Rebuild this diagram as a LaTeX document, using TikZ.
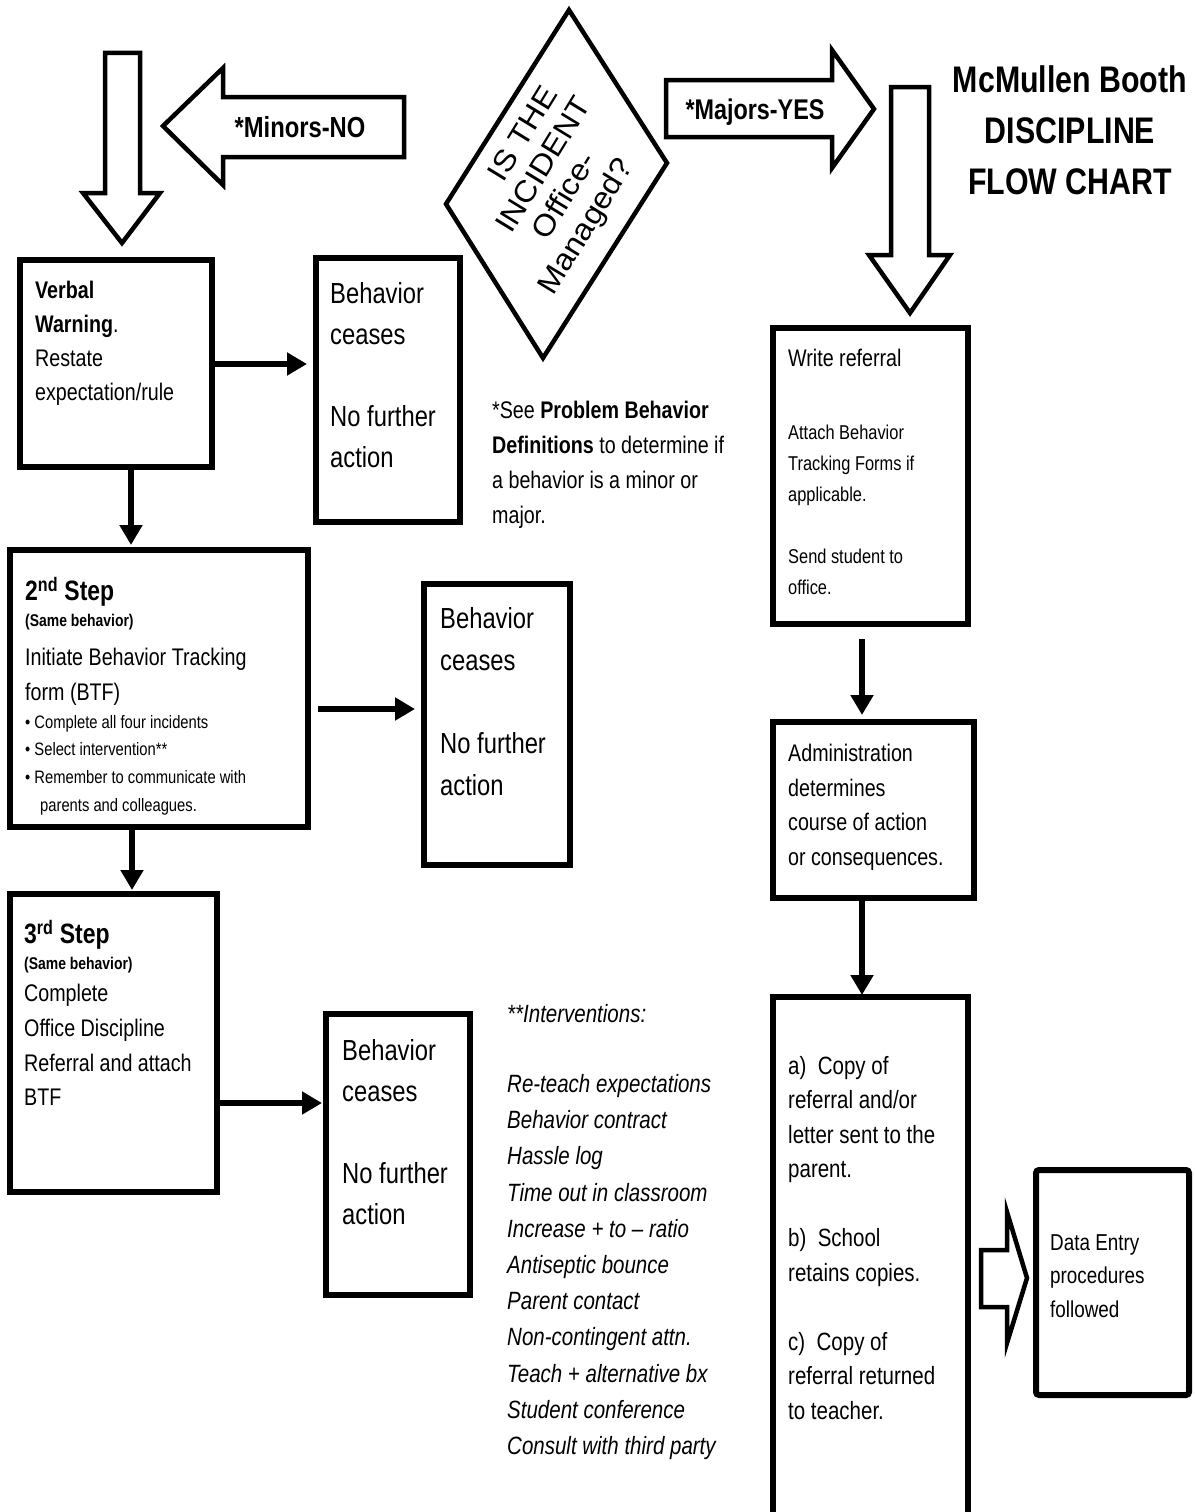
\documentclass[tikz,border=0pt]{standalone}
\usepackage{fontspec}
\setmainfont{Liberation Sans}[FakeStretch=0.82]
\newfontfamily\plainfont{Liberation Sans}[FakeStretch=1.08]
\usetikzlibrary{arrows.meta,calc}
\newcommand{\fsz}[2]{\fontsize{#1}{#2}\selectfont}
\begin{document}
\begin{tikzpicture}[x=1pt,y=-1pt,
  box/.style={draw,line width=6pt,inner sep=0pt,outer sep=0pt,anchor=north west},
  txt/.style={align=left,inner sep=0pt,anchor=north west},
  conn/.style={line width=6pt,-{Triangle[length=20pt,width=22pt]}},
  blk/.style={draw,line width=4.5pt,line join=miter,fill=white}]
\useasboundingbox[fill=white] (0,0) rectangle (1194,1512);

% ---------- block arrows and decision ----------
\draw[blk] (105,53) -- (140,53) -- (140,193) -- (160,193) -- (122,243) -- (83,193) -- (105,193) -- cycle;
\draw[blk] (163,126) -- (223,68) -- (223,97) -- (404,97) -- (404,157) -- (223,157) -- (223,185) -- cycle;
\node[font=\bfseries\fsz{29}{32}] (minors) at (300,127) {*Minors-NO};
\draw[line width=4.5pt,line join=miter] (569,10) -- (667,163) -- (543,358) -- (446,204) -- cycle;
\node[rotate=58.5,inner sep=0pt,align=left,font=\plainfont\fsz{30}{34}] (question) at (552,188)
  {\hspace*{71pt}IS THE\\\hspace*{31pt}INCIDENT\\\hspace*{44.5pt}Office-\\Managed?};
\draw[blk] (666,80) -- (832,80) -- (832,50) -- (874,109) -- (832,168) -- (832,137) -- (666,137) -- cycle;
\node[font=\bfseries\fsz{28.5}{32}] (majors) at (755,112) {*Majors-YES};
\draw[blk] (891,87) -- (929,87) -- (929,255) -- (950,255) -- (910,313) -- (869,255) -- (891,255) -- cycle;
\node[align=center,anchor=north,font=\bfseries\fsz{37}{51}] (title) at (1070,62) {McMullen Booth\\DISCIPLINE\\FLOW CHART};

% ---------- left column ----------
\node[box,minimum width=192pt,minimum height=207pt] (verbal) at (20,260) {};
\node[txt,font=\fsz{24}{34}] (verbalT) at (35,281) {\textbf{Verbal}\\\textbf{Warning}.\\Restate\\expectation/rule};

\node[box,minimum width=144pt,minimum height=264pt] (cease1) at (316,258) {};
\node[txt,font=\fsz{29}{41}] (cease1T) at (330,282) {Behavior\\ceases\\[41pt]No further\\action};

\node[txt,font=\fsz{24}{35}] (note) at (492,401) {*See \textbf{Problem Behavior}\\\textbf{Definitions} to determine if\\a behavior is a minor or\\major.};

\node[box,minimum width=298pt,minimum height=277pt] (second) at (10,550) {};
\node[txt,font=\bfseries\fsz{28}{30}] (secondA) at (25,577) {2\textsuperscript{nd} Step};
\node[txt,font=\bfseries\fsz{17}{20}] (secondB) at (25,614) {(Same behavior)};
\node[txt,font=\fsz{24}{35}] (secondC) at (25,648) {Initiate Behavior Tracking\\form (BTF)};
\node[txt,font=\fsz{18}{27.7}] (secondD) at (25,715) {\textbullet\ Complete all four incidents\\\textbullet\ Select intervention**\\\textbullet\ Remember to communicate with\\\hspace*{15pt}parents and colleagues.};

\node[box,minimum width=146pt,minimum height=281pt] (cease2) at (424,584) {};
\node[txt,font=\fsz{29}{42}] (cease2T) at (440,607) {Behavior\\ceases\\[41pt]No further\\action};

\node[box,minimum width=207pt,minimum height=298pt] (third) at (10,894) {};
\node[txt,font=\bfseries\fsz{28}{30}] (thirdA) at (24,920) {3\textsuperscript{rd} Step};
\node[txt,font=\bfseries\fsz{17}{20}] (thirdB) at (24,957) {(Same behavior)};
\node[txt,font=\fsz{24}{34.7}] (thirdC) at (24,984) {Complete\\Office Discipline\\Referral and attach\\BTF};

\node[box,minimum width=144pt,minimum height=281pt] (cease3) at (326,1014) {};
\node[txt,font=\fsz{29}{41}] (cease3T) at (342,1039) {Behavior\\ceases\\[41pt]No further\\action};

\node[txt,font=\itshape\fsz{25}{36.2}] (interv) at (507,1004) {**Interventions:\\[34pt]Re-teach expectations\\Behavior contract\\Hassle log\\Time out in classroom\\Increase + to -- ratio\\Antiseptic bounce\\Parent contact\\Non-contingent attn.\\Teach + alternative bx\\Student conference\\Consult with third party};

% ---------- right column ----------
\node[box,minimum width=195pt,minimum height=296pt] (writeref) at (773,328) {};
\node[txt,font=\fsz{24}{30}] (writerefA) at (788,349) {Write referral};
\node[txt,font=\fsz{20}{31}] (writerefB) at (788,425) {Attach Behavior\\Tracking Forms if\\applicable.\\[31pt]Send student to\\office.};

\node[box,minimum width=201pt,minimum height=176pt] (admin) at (773,722) {};
\node[txt,font=\fsz{24}{34.5}] (adminT) at (788,744) {Administration\\determines\\course of action\\or consequences.};

\node[inner sep=0pt,outer sep=0pt,anchor=north west,minimum width=195pt,minimum height=515pt] (tall) at (773,997) {};
\draw[line width=6pt] (tall.south west) -- (tall.north west) -- (tall.north east) -- (tall.south east);
\node[txt,font=\fsz{25}{34.5}] (tallT) at (788,1056) {a)\ \ Copy of\\referral and/or\\letter sent to the\\parent.\\[34.5pt]b)\ \ School\\retains copies.\\[34.5pt]c)\ \ Copy of\\referral returned\\to teacher.};

\draw[blk] (981,1250) -- (1007,1250) -- (1007,1212) -- (1027,1278) -- (1007,1343) -- (1007,1307) -- (981,1307) -- cycle;
\node[box,rounded corners=3pt,minimum width=153pt,minimum height=225pt] (data) at (1036,1170) {};
\node[txt,font=\fsz{23}{33.5}] (dataT) at (1050,1234) {Data Entry\\procedures\\followed};

% ---------- connectors ----------
\draw[conn,shorten >=9pt] (verbal.east |- 0,364) -- (cease1.west |- 0,364);
\draw[conn,shorten >=5pt] (verbal.south -| 131,0) -- (second.north -| 131,0);
\draw[conn,shorten <=10pt,shorten >=9pt] (second.east |- 0,709) -- (cease2.west |- 0,709);
\draw[conn,shorten >=4pt] (second.south -| 132,0) -- (third.north -| 132,0);
\draw[conn,shorten >=4pt] (third.east |- 0,1103) -- (cease3.west |- 0,1103);
\draw[conn,shorten <=15pt,shorten >=7pt] (writeref.south -| 862,0) -- (admin.north -| 862,0);
\draw[conn,shorten >=2pt] (admin.south -| 862,0) -- (tall.north -| 862,0);
\end{tikzpicture}
\end{document}
